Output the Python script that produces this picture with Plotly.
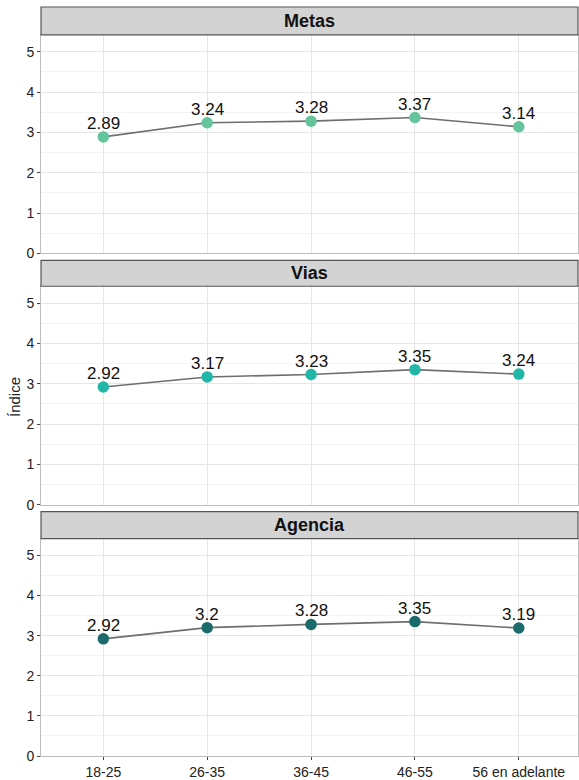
import plotly.graph_objects as go

categorias = ["18-25", "26-35", "36-45", "46-55", "56 en adelante"]
paneles = ["Metas", "Vias", "Agencia"]
metas = [2.89, 3.24, 3.28, 3.37, 3.14]
vias = [2.92, 3.17, 3.23, 3.35, 3.24]
agencia = [2.92, 3.2, 3.28, 3.35, 3.19]
colores = ["#64C49C", "#22B6A6", "#1C6B6C"]
y_ticks = [0, 1, 2, 3, 4, 5]

valores = [metas, vias, agencia]

W, H = 579, 780
mt, mb, ml, mr = 7, 22, 41, 0
ph = H - mt - mb

def fy(py):
    return (H - mb - py) / ph

# pixel positions (panel top, panel bottom, strip top)
panels_px = [(35, 254, 7), (287, 506, 261), (540, 758, 513)]

fig = go.Figure()
FONT = "Liberation Sans, Arial, sans-serif"
xs = list(range(1, len(categorias) + 1))

for i, (name, vals, col) in enumerate(zip(paneles, valores, colores)):
    ax = "" if i == 0 else str(i + 1)
    fig.add_trace(go.Scatter(
        x=xs, y=vals,
        mode="lines+markers",
        line=dict(color="#6E6E6E", width=1.6),
        marker=dict(color=col, size=11.5),
        xaxis="x" + ax, yaxis="y" + ax, showlegend=False, cliponaxis=False,
    ))
    for xv, v in zip(xs, vals):
        fig.add_annotation(x=xv, y=v, xref="x" + ax, yref="y" + ax,
                           text=f"{v:g}", showarrow=False,
                           xanchor="center", yanchor="bottom", yshift=2,
                           font=dict(family=FONT, size=17, color="#111111"))
    top, bot, stop = panels_px[i]
    fig.update_layout(**{
        "yaxis" + ax: dict(
            domain=[fy(bot), fy(top)], range=[0, 5.42],
            tickvals=y_ticks, ticks="outside", ticklen=3, tickcolor="#444",
            tickfont=dict(family=FONT, size=14, color="#222"),
            showgrid=True, gridcolor="#E6E6E6", gridwidth=1,
            minor=dict(dtick=0.5, tick0=0, showgrid=True, gridcolor="#F3F3F3", gridwidth=1, ticks=""),
            showline=True, linecolor="#BDBDBD", linewidth=1, mirror=True,
            zeroline=False, anchor="x" + ax, fixedrange=True,
        ),
        "xaxis" + ax: dict(
            domain=[0, 1], range=[0.4, 5.57],
            tickvals=xs,
            ticktext=categorias if i == 2 else [""] * len(categorias),
            showticklabels=(i == 2),
            ticks="outside" if i == 2 else "", ticklen=3, tickcolor="#444",
            tickfont=dict(family=FONT, size=14, color="#222"),
            showgrid=True, gridcolor="#E6E6E6", gridwidth=1,
            showline=True, linecolor="#BDBDBD", linewidth=1, mirror=True,
            zeroline=False, anchor="y" + ax, fixedrange=True,
        ),
    })
    fig.add_shape(type="rect", xref="paper", yref="paper",
                  x0=0, x1=1, y0=fy(top), y1=fy(stop),
                  fillcolor="#D3D3D3", line=dict(color="#555555", width=1.2), layer="above")
    fig.add_annotation(text=f"<b>{name}</b>", xref="paper", yref="paper",
                       x=0.5, y=(fy(top) + fy(stop)) / 2, showarrow=False,
                       font=dict(family=FONT, size=18, color="#111"),
                       xanchor="center", yanchor="middle")

fig.add_annotation(text="Índice", xref="paper", yref="paper",
                   x=-26 / (W - ml - mr), y=fy(398), xanchor="center", yanchor="middle",
                   textangle=-90, showarrow=False,
                   font=dict(family=FONT, size=15, color="#222"))

fig.update_layout(
    width=W, height=H,
    margin=dict(l=ml, r=mr, t=mt, b=mb, pad=0),
    plot_bgcolor="white", paper_bgcolor="white",
)

fig.write_html("out.html", config={"displayModeBar": False},
               post_script="document.body.style.margin='0';document.body.style.overflow='hidden';")
